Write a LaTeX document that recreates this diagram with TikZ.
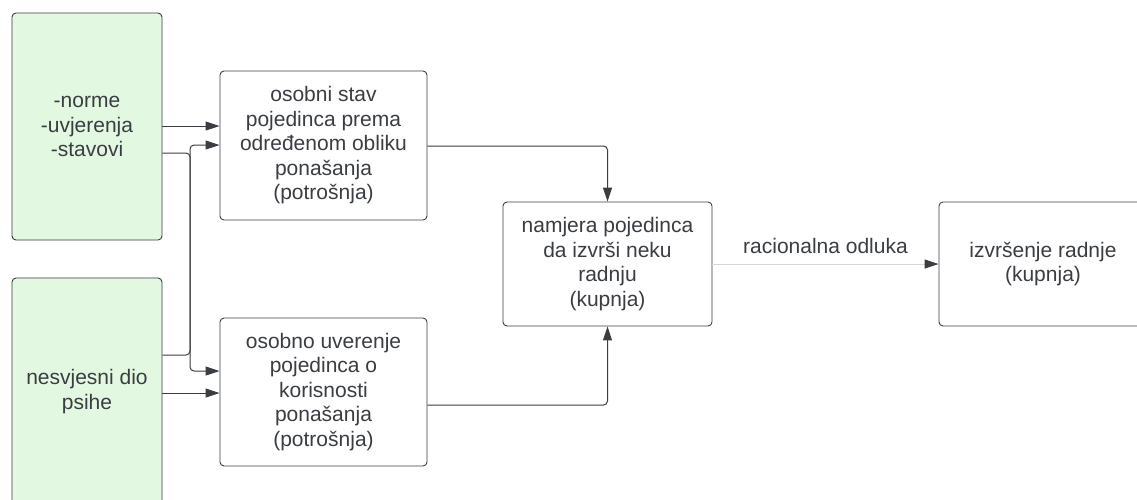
\documentclass[tikz,border=0pt]{standalone}
\usepackage{fontspec}
\setmainfont{Liberation Sans}
\usetikzlibrary{arrows.meta}
\definecolor{ink}{HTML}{3A3D42}
\definecolor{greenfill}{HTML}{E2F8E0}
\definecolor{lightline}{HTML}{D4D6D8}
\tikzset{
  box/.style={draw=ink, line width=0.9pt, rounded corners=4pt, fill=white,
    align=center, text=ink, inner sep=0pt,
    font=\fontsize{21}{24.5}\selectfont},
  greenbox/.style={box, fill=greenfill},
  conn/.style={draw=ink, line width=1pt, rounded corners=4pt,
    -{Triangle[length=14pt,width=9pt,color=ink,fill=ink]}},
  lightconn/.style={conn, draw=lightline},
  lbl/.style={text=ink, font=\fontsize{21}{24}\selectfont, inner sep=0pt}
}
\begin{document}
\begin{tikzpicture}[x=1pt,y=-1pt]
\useasboundingbox (0,0) rectangle (1137,499);
\fill[white] (0,0) rectangle (1137,499);

\node[greenbox, minimum width=150pt, minimum height=227pt] (g1) at (87,126.5)
  {\raisebox{2pt}{\parbox{140pt}{\centering -norme\\-uvjerenja\\-stavovi}}};
\node[greenbox, minimum width=150pt, minimum height=227pt] (g2) at (87,391.5)
  {nesvjesni dio\\psihe};

\node[box, minimum width=207pt, minimum height=149pt] (a) at (323.5,145.5)
  {osobni stav\\pojedinca prema\\određenom obliku\\ponašanja\\(potrošnja)};
\node[box, minimum width=207pt, minimum height=148pt] (b) at (323.5,392)
  {osobno uverenje\\pojedinca o\\korisnosti\\ponašanja\\(potrošnja)};
\node[box, minimum width=209pt, minimum height=124pt] (c) at (607.5,264)
  {namjera pojedinca\\da izvrši neku\\radnju\\(kupnja)};
\node[box, minimum width=208pt, minimum height=124pt] (d) at (1043,264)
  {izvršenje radnje\\(kupnja)};

\coordinate (j) at (190,0);

% green 1 -> A
\draw[conn] (g1.east |- {(0,126)}) -- (a.west |- {(0,126)});
% green 1 -> B (via vertical)
\draw[conn] (g1.east |- {(0,153)}) -- (j |- {(0,153)}) -- (j |- {(0,371)}) -- (b.west |- {(0,371)});
% green 2 -> A (via vertical)
\draw[conn] (g2.east |- {(0,355)}) -- (j |- {(0,355)}) -- (j |- {(0,145)}) -- (a.west |- {(0,145)});
% green 2 -> B
\draw[conn] (g2.east |- {(0,393)}) -- (b.west |- {(0,393)});
% A -> C
\draw[conn] (a.east |- {(0,146)}) -- (c.north |- {(0,146)}) -- (c.north);
% B -> C
\draw[conn] (b.east |- {(0,405)}) -- (c.south |- {(0,405)}) -- (c.south);
% C -> D
\draw[lightconn] (c.east) -- (d.west)
  node[lbl, pos=0.5, above=10pt] (lab) {racionalna odluka};
\end{tikzpicture}
\end{document}
